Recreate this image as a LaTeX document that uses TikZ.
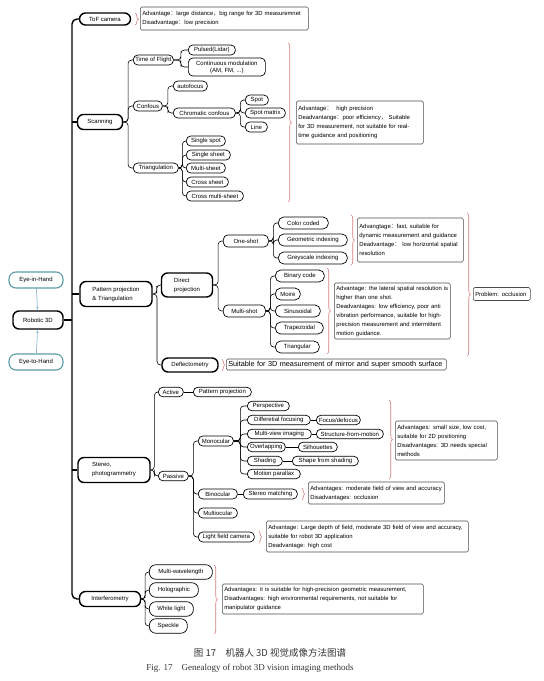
\documentclass[tikz,border=0pt]{standalone}
\usepackage{fontspec}
\setmainfont{Liberation Sans}
\newfontfamily\cjk{Noto Sans CJK SC}
\newfontfamily\capfont{Liberation Serif}
\usetikzlibrary{calc,arrows.meta,decorations.pathreplacing}
\definecolor{bracered}{HTML}{D77C80}
\definecolor{eyeteal}{HTML}{5A9CA4}
\definecolor{eyeline}{HTML}{8CB6CF}
\newcommand{\zc}{{\cjk ：}}
\newcommand{\zd}{{\cjk ，}}
\tikzset{
  mainbox/.style={draw, line width=1.4pt, rounded corners=6pt, inner sep=1pt, align=left},
  eyebox/.style={draw=eyeteal, line width=1.1pt, rounded corners=7pt, minimum width=54pt, minimum height=16pt},
  leaf/.style={draw, line width=0.7pt, rounded corners=4.5pt, anchor=west, inner sep=1pt, minimum height=10pt},
  note/.style={draw=black!70, line width=0.6pt, rounded corners=1.5pt, anchor=west, align=left, inner xsep=2pt, inner ysep=1pt, font=\fontsize{5.9}{9}\selectfont},
  link/.style={line width=0.6pt, rounded corners=3.5pt, to path={-| ($(\tikztostart)!.5!(\tikztotarget)$) |- (\tikztotarget)}},
  trunk/.style={line width=1.4pt, rounded corners=5pt},
  rbrace/.style={draw=bracered, line width=0.6pt, decorate, decoration={brace, amplitude=3.5pt}},
  eyelink/.style={draw=eyeline, line width=0.7pt, -{Latex[length=3pt,width=2.5pt]}},
}
\begin{document}
\begin{tikzpicture}[x=1pt, y=-1pt, font=\fontsize{6}{9}\selectfont]
\useasboundingbox (0,0) rectangle (544,681);

% root and mounting
\node[mainbox, minimum width=50, minimum height=18] (robot) at (38,320) {Robotic 3D};
\node[eyebox] (eyein) at (36,280) {Eye-in-Hand};
\node[eyebox] (eyeto) at (36,362) {Eye-to-Hand};
\draw[eyelink] (eyein) -- (robot);
\draw[eyelink] (eyeto) -- (robot);

% first level
\coordinate (spine) at (72,320);
\node[mainbox, minimum width=51, minimum height=12] (tof) at (105,19) {ToF camera};
\node[mainbox, minimum width=45, minimum height=15] (scan) at (100,122) {Scanning};
\node[mainbox, minimum width=72, minimum height=25] (pat) at (116,294) {Pattern projection\\\& Triangulation};
\node[mainbox, minimum width=72, minimum height=25] (stereo) at (114,470) {Stereo,\\photogrammetry};
\node[mainbox, minimum width=61, minimum height=15] (intf) at (110,599) {Interferometry};
\draw[trunk] (tof.west) -| (spine) |- (intf.west);
\foreach \n in {scan,pat,stereo} \draw[trunk] (\n.west) -- (\n.west -| spine);
\draw[trunk] (robot.east) -- (spine);

% ToF camera
\draw[rbrace] (135,13) -- (135,25);
\node[note, text width=164, minimum height=23] (tofnote) at (140,18.5) {Advantage\zc large distance\zd big range for 3D measuremnet\\Disadvantage\zc low precision};

% Scanning
\node[leaf, minimum width=40] (tofl) at (133,60) {Time of Flight};
\node[leaf, minimum width=29] (conf) at (133,106) {Confous};
\node[leaf, minimum width=45] (tri) at (133,168) {Triangulation};
\foreach \n in {tofl,conf,tri} \draw[link] (scan.east) to (\n.west);
\node[leaf, minimum width=47] (puls) at (188,50) {Pulsed(Lidar)};
\node[leaf, minimum width=77, minimum height=18, align=center, font=\fontsize{6}{7}\selectfont] (cont) at (188,67) {Continuous modulation\\(AM, FM, ...)};
\draw[link] (tofl.east) to (puls.west);
\draw[link] (tofl.east) to (cont.west);
\node[leaf, minimum width=34] (autof) at (173,86) {autofocus};
\node[leaf, minimum width=62] (chrom) at (173,113) {Chromatic confous};
\draw[link] (conf.east) to (autof.west);
\draw[link] (conf.east) to (chrom.west);
\foreach \n/\y/\w/\t in {spot/100/23/Spot, spotm/113/40/Spot matrix, lin/127/22/Line}{
  \node[leaf, minimum width=\w] (\n) at (245,\y) {\t};
  \draw[link] (chrom.east) to (\n.west);
}
\foreach \n/\y/\w/\t in {ss/141/39/Single spot, sh/155/44/Single sheet, ms/168/39/Multi-sheet, cs/182/42/Cross sheet, cms/196/57/Cross multi-sheet}{
  \node[leaf, minimum width=\w] (\n) at (186,\y) {\t};
  \draw[link] (tri.east) to (\n.west);
}
\draw[rbrace] (288,43) -- (288,202);
\node[note, text width=123, minimum height=43] (scannote) at (296,122.5) {Advantage\zc\ \ high precision\\Deadvantange\zc poor efficiency\zd\ Suitable\\for 3D measurement, not suitable for real-\\time guidance and positioning};

% Pattern projection
\node[mainbox, minimum width=51, minimum height=24] (direct) at (187,285) {Direct\\projection};
\node[mainbox, minimum width=56, minimum height=14] (defl) at (190,365) {Deflectometry};
\draw[link] (pat.east) to (direct.west);
\draw[link] (pat.east) to (defl.west);
\node[leaf, minimum width=45, minimum height=12] (one) at (223,241) {One-shot};
\node[leaf, minimum width=42, minimum height=12] (multi) at (223,311) {Multi-shot};
\draw[link] (direct.east) to (one.west);
\draw[link] (direct.east) to (multi.west);
\foreach \n/\y/\w/\t in {cc/223/50/Color coded, gi/240/69/Geometric indexing, gsi/258/69/Greyscale indexing}{
  \node[leaf, minimum width=\w, minimum height=12, rounded corners=5.5pt] (\n) at (278,\y) {\t};
  \draw[link] (one.east) to (\n.west);
}
\foreach \n/\y/\w/\t in {bc/276/49/Binary code, moire/294/25/Moire, sinu/311/45/Sinusoidal, trap/328/48/Trapezoidal, trig/347/44/Triangular}{
  \node[leaf, minimum width=\w, minimum height=12, rounded corners=5.5pt] (\n) at (275,\y) {\t};
  \draw[link] (multi.east) to (\n.west);
}
\draw[rbrace] (351,215) -- (351,265);
\node[note, text width=102, minimum height=44] (onenote) at (357,240) {Advangtage\zc fast, suitable for\\dynamic measurement and guidance\\Deadvantage\zc\ low horizontal spatial\\resolution};
\draw[rbrace] (327,268) -- (327,354);
\node[note, text width=112, minimum height=56] (multinote) at (334,311) {Advantage: the lateral spatial resolution is\\higher than one shot.\\Deadvantages: low efficiency, poor anti\\vibration performance, suitable for high-\\precision measurement and intermittent\\motion guidance.};
\draw[rbrace, decoration={aspect=0.57}] (467,213) -- (467,356);
\node[note, text width=53, minimum height=13] (probnote) at (473,294) {Problem: occlusion};
\draw[rbrace, decoration={amplitude=2.5pt}] (222,359) -- (222,371);
\node[note, text width=216, minimum height=11, font=\fontsize{7.3}{8}\selectfont] (deflnote) at (226,364.5) {Suitable for 3D measurement of mirror and super smooth surface};

% Stereo, photogrammetry
\node[leaf, minimum width=25, minimum height=9.5] (act) at (158,392) {Active};
\node[leaf, minimum width=58, minimum height=9.5] (pp) at (193,392) {Pattern projection};
\node[leaf, minimum width=30, minimum height=9.5] (pas) at (158,476) {Passive};
\draw[link] (stereo.east) to (act.west);
\draw[link] (stereo.east) to (pas.west);
\draw[line width=0.6pt] (act) -- (pp);
\foreach \n/\y/\w/\t in {mono/441/35/Monocular, bino/494/39/Binocular, multo/513/39/Multiocular, lfc/537/56/Light field camera}{
  \node[leaf, minimum width=\w] (\n) at (198,\y) {\t};
  \draw[link] (pas.east) to (\n.west);
}
\foreach \n/\y/\w/\t in {persp/406/42/Perspective, dfoc/420/63/Differetial focusing, mvi/434/64/Multi-view imaging, ovl/447/38/Overlapping, shd/461/35/Shading, mp/474/53/Motion parallax}{
  \node[leaf, minimum width=\w, minimum height=9.5] (\n) at (247,\y) {\t};
  \draw[link] (mono.east) to (\n.west);
}
\node[leaf, minimum width=44, minimum height=9.5] (fd) at (316,420) {Focus/defocus};
\node[leaf, minimum width=67, minimum height=9.5] (sfm) at (316,434) {Structure-from-motion};
\node[leaf, minimum width=39, minimum height=9.5] (sil) at (298,447) {Silhouettes};
\node[leaf, minimum width=66, minimum height=9.5] (sfs) at (292,461) {Shape from shading};
\draw[line width=0.6pt] (dfoc) -- (fd);
\draw[line width=0.6pt] (mvi) -- (sfm);
\draw[line width=0.6pt] (ovl) -- (sil);
\draw[line width=0.6pt] (shd) -- (sfs);
\node[leaf, minimum width=54] (sm) at (243,494) {Stereo matching};
\draw[line width=0.6pt] (bino) -- (sm);
\draw[rbrace] (389,400) -- (389,479);
\node[note, text width=98, minimum height=39] (mononote) at (395,440.5) {Advantages: small size, low cost,\\suitable for 2D positioning\\Disadvantages: 3D needs special\\methods};
\draw[rbrace, decoration={amplitude=2.5pt}] (302,488) -- (302,500);
\node[note, text width=132, minimum height=22] (smnote) at (308,493) {Advantages: moderate field of view and accuracy\\Disadvantages: occlusion};
\draw[rbrace, decoration={amplitude=2.5pt}] (259,531) -- (259,543);
\node[note, text width=198, minimum height=31] (lfcnote) at (266,536.5) {Advantage: Large depth of field, moderate 3D field of view and accuracy,\\suitable for robot 3D application\\Deadvantage: high cost};

% Interferometry
\foreach \n/\y/\w/\t in {mw/572/63/Multi-wavelength, holo/590/49/Holographic, wl/609/44/White light, spk/626/38/Speckle}{
  \node[leaf, minimum width=\w, minimum height=14.5, rounded corners=6.5pt] (\n) at (149,\y) {\t};
  \draw[link] (intf.east) to (\n.west);
}
\draw[rbrace] (214,565) -- (214,634);
\node[note, text width=197, minimum height=30] (intnote) at (222,599) {Advantages: it is suitable for high-precision geometric measurement,\\Disadvantages: high environmental requirements, not suitable for\\manipulator guidance};

% caption
\node[font=\fontsize{9.5}{11}\selectfont, text=black!80] (capcn) at (270,653) {\cjk 图 17\quad 机器人 3D 视觉成像方法图谱};
\node[font=\fontsize{9}{11}\selectfont\capfont, text=black!80] (capen) at (250,668) {Fig. 17\quad Genealogy of robot 3D vision imaging methods};
\end{tikzpicture}
\end{document}
